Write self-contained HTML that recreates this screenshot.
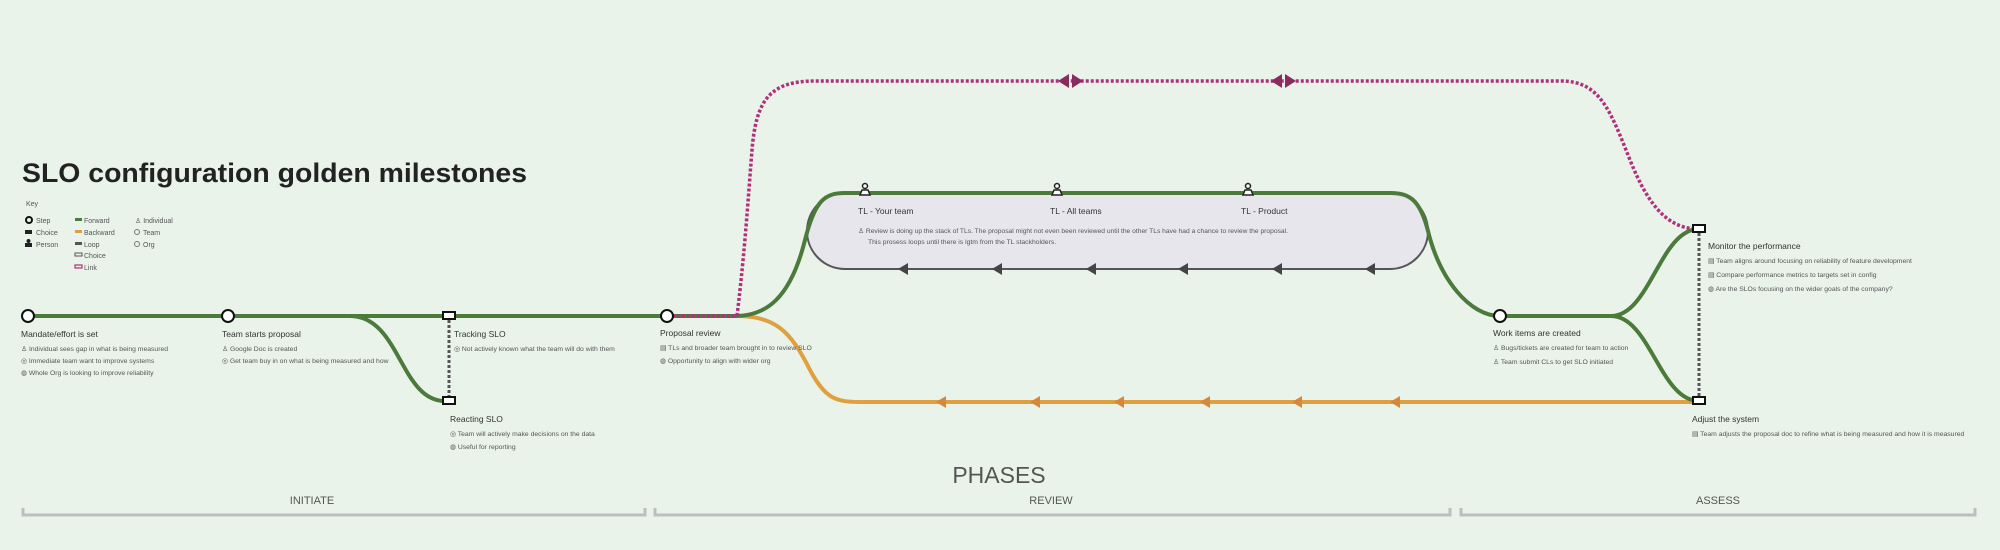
<!DOCTYPE html>
<html><head><meta charset="utf-8"><style>
html,body{margin:0;padding:0;background:#e9f3ea;}
svg{display:block;font-family:"Liberation Sans",sans-serif;}
.t{font-size:8.5px;fill:#333;}
.b{font-size:6.8px;fill:#555;}
.k{font-size:7px;fill:#555;}
</style></head><body>
<svg width="2000" height="550" viewBox="0 0 2000 550" xmlns="http://www.w3.org/2000/svg">
<rect width="2000" height="550" fill="#e9f3ea"/>
<text x="22" y="182" font-size="27" font-weight="bold" fill="#222" textLength="505" lengthAdjust="spacingAndGlyphs">SLO configuration golden milestones</text>
<text x="26" y="206" class="k">Key</text>
<g class="k">
<circle cx="29" cy="220" r="3" fill="none" stroke="#111" stroke-width="2"/><text x="36" y="223">Step</text>
<rect x="25" y="230" width="7" height="4" fill="#222"/><text x="36" y="235">Choice</text>
<circle cx="28.5" cy="241" r="2" fill="#222"/><rect x="25" y="243" width="7" height="4" fill="#222"/><text x="36" y="247">Person</text>
<rect x="75" y="218" width="7" height="3" fill="#4b7a3a"/><text x="84" y="223">Forward</text>
<rect x="75" y="230" width="7" height="3" fill="#e0a040"/><text x="84" y="235">Backward</text>
<rect x="75" y="242" width="7" height="3" fill="#555"/><text x="84" y="247">Loop</text>
<rect x="75" y="253" width="7" height="3" fill="none" stroke="#555" stroke-width="1"/><text x="84" y="258">Choice</text>
<rect x="75" y="265" width="7" height="3" fill="none" stroke="#b0307a" stroke-width="1.2"/><text x="84" y="270">Link</text>
<text x="135" y="223">♙ Individual</text>
<circle cx="137" cy="232" r="2.5" fill="none" stroke="#777"/><text x="143" y="235">Team</text>
<circle cx="137" cy="244" r="2.5" fill="none" stroke="#777"/><text x="143" y="247">Org</text>
</g>
<rect x="807" y="193" width="621" height="76" rx="38" fill="#e7e6ec" stroke="#555" stroke-width="2"/>
<g fill="#444">
<path d="M908,263 L898,269 L908,275Z"/><path d="M1002,263 L992,269 L1002,275Z"/><path d="M1096,263 L1086,269 L1096,275Z"/>
<path d="M1188,263 L1178,269 L1188,275Z"/><path d="M1282,263 L1272,269 L1282,275Z"/><path d="M1375,263 L1365,269 L1375,275Z"/>
</g>
<path d="M735,316 C775,316 790,330 810,370 C825,398 835,402 860,402 L1699,402" fill="none" stroke="#e0a040" stroke-width="4"/>
<g fill="#d7863a">
<path d="M946,396 L936,402 L946,408Z"/><path d="M1040,396 L1030,402 L1040,408Z"/><path d="M1124,396 L1114,402 L1124,408Z"/>
<path d="M1210,396 L1200,402 L1210,408Z"/><path d="M1302,396 L1292,402 L1302,408Z"/><path d="M1400,396 L1390,402 L1400,408Z"/>
</g>
<g fill="none" stroke="#4b7a3a" stroke-width="4">
<path d="M28,316 L737,316"/>
<path d="M350,316 C400,316 400,401 445,401"/>
<path d="M735,316 C765,316 790,300 805,240 C815,200 825,193 845,193 L1390,193 C1410,193 1420,200 1428,231 C1440,280 1470,316 1500,316 L1611,316"/>
<path d="M1611,316 C1650,316 1660,229 1699,229"/>
<path d="M1611,316 C1650,316 1660,401 1699,401"/>
</g>
<path d="M667,316 L737,316 C745,250 748,200 752,150 C756,100 770,81 815,81 L1561,81 C1600,81 1610,110 1630,160 C1650,210 1670,228 1697,229" fill="none" stroke="#b0307a" stroke-width="3.5" stroke-dasharray="3 2"/>
<g fill="#8a2a5e">
<path d="M1069,74 L1058,81 L1069,88Z"/><path d="M1072,74 L1083,81 L1072,88Z"/>
<path d="M1282,74 L1271,81 L1282,88Z"/><path d="M1285,74 L1296,81 L1285,88Z"/>
</g>
<line x1="449" y1="320" x2="449" y2="398" stroke="#555" stroke-width="3" stroke-dasharray="3 2"/>
<line x1="1699" y1="233" x2="1699" y2="398" stroke="#555" stroke-width="3" stroke-dasharray="3 2"/>
<g fill="#fff" stroke="#111" stroke-width="2">
<circle cx="28" cy="316" r="6"/><circle cx="228" cy="316" r="6"/><circle cx="667" cy="316" r="6"/><circle cx="1500" cy="316" r="6"/>
<rect x="443" y="312" width="12" height="7"/><rect x="443" y="397" width="12" height="7"/>
<rect x="1693" y="225" width="12" height="7"/><rect x="1693" y="397" width="12" height="7"/>
</g>
<g fill="#fff" stroke="#222" stroke-width="1.5">
<circle cx="865" cy="186" r="2.5"/><path d="M860,195 L862,190 L868,190 L870,195Z"/>
<circle cx="1057" cy="186" r="2.5"/><path d="M1052,195 L1054,190 L1060,190 L1062,195Z"/>
<circle cx="1248" cy="186" r="2.5"/><path d="M1243,195 L1245,190 L1251,190 L1253,195Z"/>
</g>
<text x="21" y="337" class="t">Mandate/effort is set</text>
<text x="21" y="351" class="b">♙ Individual sees gap in what is being measured</text>
<text x="21" y="363" class="b">◎ Immediate team want to improve systems</text>
<text x="21" y="375" class="b">◍ Whole Org is looking to improve reliability</text>
<text x="222" y="337" class="t">Team starts proposal</text>
<text x="222" y="351" class="b">♙ Google Doc is created</text>
<text x="222" y="363" class="b">◎ Get team buy in on what is being measured and how</text>
<text x="454" y="337" class="t">Tracking SLO</text>
<text x="454" y="351" class="b">◎ Not actively known what the team will do with them</text>
<text x="450" y="422" class="t">Reacting SLO</text>
<text x="450" y="436" class="b">◎ Team will actively make decisions on the data</text>
<text x="450" y="449" class="b">◍ Useful for reporting</text>
<text x="660" y="336" class="t">Proposal review</text>
<text x="660" y="350" class="b">▤ TLs and broader team brought in to review SLO</text>
<text x="660" y="363" class="b">◍ Opportunity to align with wider org</text>
<text x="858" y="214" class="t" font-size="8">TL - Your team</text>
<text x="1050" y="214" class="t" font-size="8">TL - All teams</text>
<text x="1241" y="214" class="t" font-size="8">TL - Product</text>
<text x="858" y="233" class="b" font-size="6.5" textLength="430" lengthAdjust="spacingAndGlyphs">♙ Review is doing up the stack of TLs. The proposal might not even been reviewed until the other TLs have had a chance to review the proposal.</text>
<text x="868" y="244" class="b" font-size="6.5">This prosess loops until there is lgtm from the TL stackholders.</text>
<text x="1493" y="336" class="t">Work items are created</text>
<text x="1493" y="350" class="b">♙ Bugs/tickets are created for team to action</text>
<text x="1493" y="364" class="b">♙ Team submit CLs to get SLO initiated</text>
<text x="1708" y="249" class="t">Monitor the performance</text>
<text x="1708" y="263" class="b">▤ Team aligns around focusing on reliability of feature development</text>
<text x="1708" y="277" class="b">▤ Compare performance metrics to targets set in config</text>
<text x="1708" y="291" class="b">◍ Are the SLOs focusing on the wider goals of the company?</text>
<text x="1692" y="422" class="t">Adjust the system</text>
<text x="1692" y="436" class="b">▤ Team adjusts the proposal doc to refine what is being measured and how it is measured</text>
<text x="999" y="483" font-size="23" fill="#555" text-anchor="middle">PHASES</text>
<text x="312" y="504" font-size="11" fill="#555" text-anchor="middle">INITIATE</text>
<text x="1051" y="504" font-size="11" fill="#555" text-anchor="middle">REVIEW</text>
<text x="1718" y="504" font-size="11" fill="#555" text-anchor="middle">ASSESS</text>
<g fill="none" stroke="#bcbfbf" stroke-width="3">
<path d="M23,508 L23,515 L645,515 L645,508"/>
<path d="M655,508 L655,515 L1450,515 L1450,508"/>
<path d="M1461,508 L1461,515 L1975,515 L1975,508"/>
</g>
</svg>
</body></html>
